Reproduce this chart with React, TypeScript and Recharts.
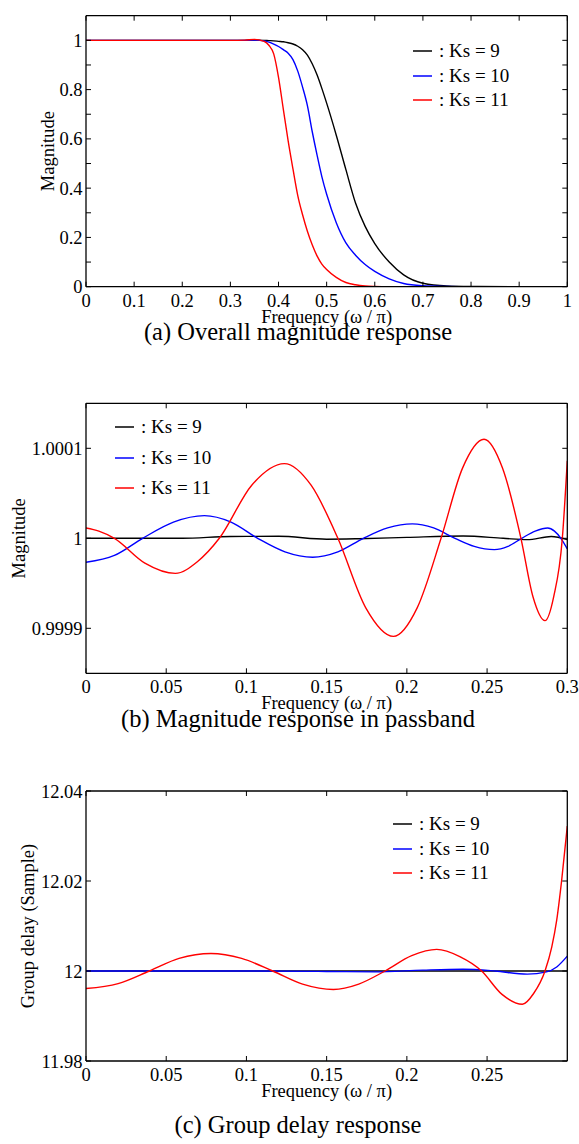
import { LineChart, Line, XAxis, YAxis, Legend } from 'recharts';

const serif = '"Liberation Serif", "Times New Roman", serif';

const seriesNames = [': Ks = 9', ': Ks = 10', ': Ks = 11'];
const seriesColors = ['#000000', '#0000ff', '#ff0000'];

// (a) overall magnitude response
const overallFreq = [0, 0.1, 0.2, 0.3, 0.33, 0.35, 0.37, 0.38, 0.39, 0.4, 0.41, 0.42, 0.43, 0.44, 0.45, 0.46,
  0.47, 0.48, 0.49, 0.5, 0.52, 0.54, 0.56, 0.58, 0.6, 0.63, 0.66, 0.7, 0.75, 0.8, 0.9, 1];
const overallKs9 = [1, 1, 1, 1, 1, 1.001, 1, 0.999, 0.998, 0.996, 0.994, 0.99, 0.985, 0.976, 0.962, 0.94,
  0.905, 0.86, 0.805, 0.745, 0.615, 0.475, 0.34, 0.245, 0.175, 0.1, 0.048, 0.014, 0.003, 0.001, 0, 0];
const overallKs10 = [1, 1, 1, 1, 1, 1.001, 0.998, 0.993, 0.985, 0.975, 0.962, 0.948, 0.922, 0.875, 0.81, 0.735,
  0.63, 0.535, 0.447, 0.375, 0.26, 0.178, 0.128, 0.09, 0.062, 0.032, 0.013, 0.004, 0.001, 0, 0, 0];
const overallKs11 = [1, 1, 1, 1, 1.001, 1.004, 0.996, 0.98, 0.945, 0.85, 0.72, 0.592, 0.478, 0.37, 0.292, 0.225,
  0.17, 0.125, 0.092, 0.07, 0.038, 0.017, 0.008, 0.003, 0.001, 0, 0, 0, 0, 0, 0, 0];
const overallXTicks = [0, 0.1, 0.2, 0.3, 0.4, 0.5, 0.6, 0.7, 0.8, 0.9, 1];
const overallYTicks = [0, 0.1, 0.2, 0.3, 0.4, 0.5, 0.6, 0.7, 0.8, 0.9, 1];

// (b) magnitude response in passband
const passKs9Freq = [0, 0.06, 0.09, 0.12, 0.15, 0.17, 0.2, 0.235, 0.26, 0.275, 0.29, 0.3];
const passKs9 = [1, 1, 1.000002, 1.0000022, 0.999999, 0.9999995, 1.000001, 1.0000025, 1, 0.9999985, 1.000002, 0.9999985];
const passKs10Freq = [0, 0.0177, 0.0353, 0.0545, 0.0738, 0.0904, 0.107, 0.124, 0.1413, 0.157, 0.1729, 0.188,
  0.2034, 0.2167, 0.23, 0.242, 0.2545, 0.263, 0.2716, 0.28, 0.2878, 0.292, 0.296, 0.3];
const passKs10 = [0.9999733, 0.999981, 1, 1.000018, 1.0000252, 1.000018, 1, 0.999985, 0.999979, 0.999985, 1, 1.0000115,
  1.000016, 1.0000115, 1, 0.999991, 0.9999874, 0.999991, 1, 1.000008, 1.0000115, 1.000008, 1, 0.9999882];
const passKs11Freq = [0, 0.008, 0.0177, 0.0367, 0.0557, 0.0694, 0.0831, 0.1033, 0.1236, 0.1403, 0.157, 0.1743,
  0.1916, 0.2065, 0.2213, 0.2347, 0.2481, 0.2596, 0.2711, 0.2786, 0.2861, 0.2915, 0.2969, 0.3];
const passKs11 = [1.0000115, 1.000008, 1, 0.9999725, 0.999961, 0.999974, 1, 1.000059, 1.000083, 1.000059, 1, 0.999923,
  0.999891, 0.999923, 1, 1.000078, 1.00011, 1.000078, 1, 0.999935, 0.9999085, 0.999935, 1, 1.000086];
const passXTicks = [0, 0.05, 0.1, 0.15, 0.2, 0.25, 0.3];
const passYTicks = [0.9999, 1, 1.0001];

// (c) group delay response
const delayKs9Freq = [0, 0.1, 0.2, 0.3];
const delayKs9 = [12, 12, 12, 12];
const delayKs10Freq = [0, 0.1, 0.15, 0.18, 0.21, 0.235, 0.255, 0.275, 0.287, 0.2934, 0.3];
const delayKs10 = [12, 12, 11.9999, 11.9998, 12.0002, 12.0004, 12, 11.9993, 11.9998, 12.0009, 12.0033];
const delayKs11Freq = [0, 0.02, 0.0395, 0.058, 0.0779, 0.097, 0.1164, 0.135, 0.1542, 0.17, 0.1864, 0.203,
  0.2186, 0.233, 0.2466, 0.2593, 0.272, 0.279, 0.2861, 0.2903, 0.2934, 0.2965, 0.3];
const delayKs11 = [11.9961, 11.9972, 12, 12.0028, 12.0039, 12.0028, 12, 11.9971, 11.9959, 11.9971, 12, 12.0034,
  12.0048, 12.0032, 12, 11.9948, 11.9926, 11.995, 12, 12.0053, 12.0113, 12.0202, 12.0322];
const delayXTicks = [0, 0.05, 0.1, 0.15, 0.2, 0.25];
const delayYTicks = [11.98, 12, 12.02, 12.04];

const toPoints = (freq: number[], vals: number[]) => freq.map((f, i) => ({ f, v: vals[i] }));

const overallSeries = [overallKs9, overallKs10, overallKs11].map((vals) => toPoints(overallFreq, vals));
const passSeries = [
  toPoints(passKs9Freq, passKs9),
  toPoints(passKs10Freq, passKs10),
  toPoints(passKs11Freq, passKs11),
];
const delaySeries = [
  toPoints(delayKs9Freq, delayKs9),
  toPoints(delayKs10Freq, delayKs10),
  toPoints(delayKs11Freq, delayKs11),
];

const blank = () => '';

function KsLegend({ payload, rowHeight }: any) {
  // keep the order of the series (Ks = 9, 10, 11), not the alphabetical one
  const items = [...(payload || [])].sort(
    (a: any, b: any) => seriesNames.indexOf(a.value) - seriesNames.indexOf(b.value)
  );
  return (
    <div style={{ fontFamily: serif, fontSize: 19, color: '#000' }}>
      {items.map((p: any) => (
        <div key={p.value} style={{ display: 'flex', alignItems: 'center', height: rowHeight }}>
          <svg width={19} height={4} style={{ marginRight: 7 }}>
            <line x1={0} x2={19} y1={2} y2={2} stroke={p.color} strokeWidth={1.5} />
          </svg>
          <span style={{ whiteSpace: 'nowrap' }}>{p.value}</span>
        </div>
      ))}
    </div>
  );
}

type PanelProps = {
  top: number;
  height: number;
  marginTop: number;
  marginBottom: number;
  series: { f: number; v: number }[][];
  xDomain: [number, number];
  xTicks: number[];
  yDomain: [number, number];
  yTicks: number[];
  yFormat: (v: number) => string;
  yLabel: string;
  yLabelX: number;
  legendLeft: number;
  legendTop: number;
  legendRow: number;
};

function Panel(p: PanelProps) {
  const tickStyle = { fill: '#000', fontSize: 18.5 };
  return (
    <div style={{ position: 'absolute', left: 0, top: p.top }}>
      <LineChart
        width={579}
        height={p.height}
        margin={{ top: p.marginTop, right: 10.7, bottom: p.marginBottom, left: 0 }}
      >
        <XAxis
          xAxisId="b"
          dataKey="f"
          type="number"
          domain={p.xDomain}
          ticks={p.xTicks}
          allowDataOverflow
          height={40}
          stroke="#000"
          axisLine={{ strokeWidth: 1.3 }}
          tickSize={-5}
          tickMargin={12}
          tick={tickStyle}
          tickFormatter={(v: number) => String(v)}
          interval={0}
          label={{ value: 'Frequency (ω / π)', position: 'insideBottom', offset: 4, fill: '#000', fontSize: 18.5 }}
        />
        <XAxis
          xAxisId="t"
          orientation="top"
          dataKey="f"
          type="number"
          domain={p.xDomain}
          ticks={p.xTicks}
          allowDataOverflow
          height={1}
          stroke="#000"
          axisLine={{ strokeWidth: 1.3 }}
          tickSize={-5}
          tickFormatter={blank}
          interval={0}
        />
        <YAxis
          yAxisId="l"
          type="number"
          domain={p.yDomain}
          ticks={p.yTicks}
          allowDataOverflow
          width={86}
          stroke="#000"
          axisLine={{ strokeWidth: 1.3 }}
          tickSize={-5}
          tickMargin={8.5}
          tick={tickStyle}
          tickFormatter={p.yFormat}
          interval={0}
          label={{
            value: p.yLabel,
            angle: -90,
            position: 'insideLeft',
            offset: p.yLabelX,
            fill: '#000',
            fontSize: 18.5,
            style: { textAnchor: 'middle' },
          }}
        />
        <YAxis
          yAxisId="r"
          orientation="right"
          type="number"
          domain={p.yDomain}
          ticks={p.yTicks}
          allowDataOverflow
          width={1}
          stroke="#000"
          axisLine={{ strokeWidth: 1.3 }}
          tickSize={-5}
          tickFormatter={blank}
          interval={0}
        />
        <Legend
          layout="horizontal"
          verticalAlign="middle"
          align="center"
          wrapperStyle={{ left: p.legendLeft, top: p.legendTop, width: 'auto' }}
          content={(props: any) => <KsLegend {...props} rowHeight={p.legendRow} />}
        />
        {p.series.map((data, i) => (
          <Line
            key={seriesNames[i]}
            xAxisId="b"
            yAxisId="l"
            data={data}
            dataKey="v"
            name={seriesNames[i]}
            type="monotone"
            stroke={seriesColors[i]}
            strokeWidth={1.4}
            dot={false}
            activeDot={false}
            isAnimationActive={false}
          />
        ))}
      </LineChart>
    </div>
  );
}

function Caption({ text, center }: { text: string; center: number }) {
  return (
    <div
      style={{
        position: 'absolute',
        left: 0,
        width: 596,
        top: center - 12,
        lineHeight: '24px',
        textAlign: 'center',
        fontFamily: serif,
        fontSize: 24.5,
        color: '#000',
      }}
    >
      {text}
    </div>
  );
}

export default function App() {
  return (
    <div style={{ position: 'absolute', left: 0, top: 0, width: 579, height: 1144, background: '#fff' }}>
      <style>{`.recharts-wrapper text { font-family: ${serif}; }`}</style>
      <Panel
        top={0}
        height={335}
        marginTop={14.7}
        marginBottom={8.3}
        series={overallSeries}
        xDomain={[0, 1]}
        xTicks={overallXTicks}
        yDomain={[0, 1.1]}
        yTicks={overallYTicks}
        yFormat={(v: number) => (Math.round(v * 10) % 2 === 0 ? String(+v.toFixed(1)) : '')}
        yLabel="Magnitude"
        yLabelX={47}
        legendLeft={413}
        legendTop={38.75}
        legendRow={24.5}
      />
      <Caption text="(a) Overall magnitude response" center={332} />
      <Panel
        top={380}
        height={340}
        marginTop={22.3}
        marginBottom={6.7}
        series={passSeries}
        xDomain={[0, 0.3]}
        xTicks={passXTicks}
        yDomain={[0.99985, 1.00015]}
        yTicks={passYTicks}
        yFormat={(v: number) => String(v)}
        yLabel="Magnitude"
        yLabelX={18.5}
        legendLeft={115}
        legendTop={31.75}
        legendRow={30.5}
      />
      <Caption text="(b) Magnitude response in passband" center={719} />
      <Panel
        top={770}
        height={340}
        marginTop={20}
        marginBottom={9}
        series={delaySeries}
        xDomain={[0, 0.3]}
        xTicks={delayXTicks}
        yDomain={[11.98, 12.04]}
        yTicks={delayYTicks}
        yFormat={(v: number) => String(v)}
        yLabel="Group delay (Sample)"
        yLabelX={27.5}
        legendLeft={393}
        legendTop={42}
        legendRow={24.5}
      />
      <Caption text="(c) Group delay response" center={1125} />
    </div>
  );
}
